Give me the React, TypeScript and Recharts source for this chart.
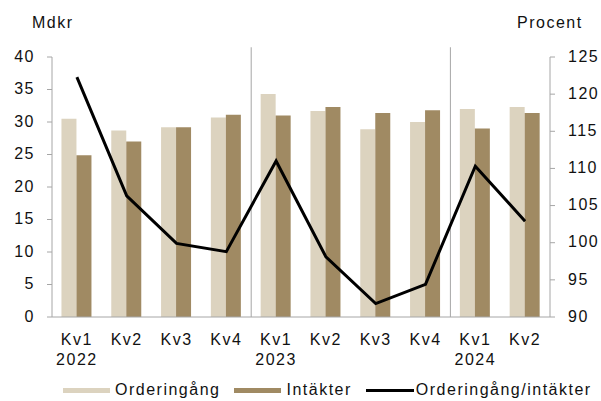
import React from 'react';
import {
  ComposedChart,
  Bar,
  Line,
  XAxis,
  YAxis,
  ReferenceLine,
  Legend,
} from 'recharts';

// Quarterly figures, Mdkr (bars) and ratio in percent (line)
const periods = [
  'Kv1 2022', 'Kv2 2022', 'Kv3 2022', 'Kv4 2022',
  'Kv1 2023', 'Kv2 2023', 'Kv3 2023', 'Kv4 2023',
  'Kv1 2024', 'Kv2 2024',
];
const orderIntake = [30.5, 28.7, 29.2, 30.7, 34.3, 31.7, 28.9, 30.0, 32.0, 32.3];
const revenue = [24.9, 27.0, 29.2, 31.1, 31.0, 32.3, 31.4, 31.8, 29.0, 31.4];
const ratio = [122.3, 106.3, 99.9, 98.8, 111.0, 98.1, 91.8, 94.4, 110.3, 102.9];

const leftTicks = [0, 5, 10, 15, 20, 25, 30, 35, 40];
const rightTicks = [90, 95, 100, 105, 110, 115, 120, 125];
const yearStarts = ['Kv1 2023', 'Kv1 2024'];
const seriesNames = ['Orderingång', 'Intäkter', 'Orderingång/intäkter'];

const LIGHT = '#dcd3bf';
const DARK = '#a08a63';
const GRID = '#a6a6a6';
const TEXT = '#111111';
const FONT_SIZE = 16;

const data = periods.map((period, i) => ({
  period,
  orderIntake: orderIntake[i],
  revenue: revenue[i],
  ratio: ratio[i],
}));

const QuarterTick = (props: any) => {
  const { x, y, payload } = props;
  const [quarter, year] = String(payload.value).split(' ');
  return (
    <g>
      <text x={x} y={y + 28} textAnchor="middle" fill={TEXT} fontSize={FONT_SIZE}>
        {quarter}
      </text>
      {quarter === 'Kv1' && (
        <text x={x} y={y + 48} textAnchor="middle" fill={TEXT} fontSize={FONT_SIZE}>
          {year}
        </text>
      )}
    </g>
  );
};

const LegendContent = (props: any) => {
  const items = [...(props.payload || [])].sort(
    (a: any, b: any) => seriesNames.indexOf(a.value) - seriesNames.indexOf(b.value)
  );
  return (
    <div
      style={{
        display: 'flex',
        alignItems: 'center',
        height: 22,
        paddingLeft: 63,
        fontSize: FONT_SIZE,
        color: TEXT,
        whiteSpace: 'nowrap',
      }}
    >
      {items.map((item: any) => (
        <div
          key={item.value}
          style={{ display: 'flex', alignItems: 'center', marginRight: 14 }}
        >
          {item.type === 'line' ? (
            <div style={{ width: 48, height: 3, background: item.color, marginRight: 2 }} />
          ) : (
            <div style={{ width: 47, height: 5, background: item.color, marginRight: 5 }} />
          )}
          <span>{item.value}</span>
        </div>
      ))}
    </div>
  );
};

export default function App() {
  return (
    <div
      style={{
        position: 'absolute',
        left: 0,
        top: 0,
        width: 601,
        height: 401,
        fontFamily: '"Liberation Sans", Arial, sans-serif',
        letterSpacing: '1.5px',
        background: '#ffffff',
      }}
    >
      <ComposedChart
        width={601}
        height={401}
        data={data}
        margin={{ top: 57, right: 0, bottom: 0, left: 0 }}
        barCategoryGap="19%"
        barGap={0}
      >
        <XAxis
          dataKey="period"
          xAxisId="x"
          height={62}
          interval={0}
          tickLine={false}
          tickSize={0}
          tickMargin={0}
          axisLine={{ stroke: GRID }}
          tick={<QuarterTick />}
        />
        <YAxis
          yAxisId="left"
          orientation="left"
          width={52}
          domain={[0, 40]}
          ticks={leftTicks}
          interval={0}
          tickSize={5}
          tickMargin={12}
          axisLine={{ stroke: GRID }}
          tickLine={{ stroke: GRID }}
          tick={{ fill: TEXT, fontSize: FONT_SIZE, dy: -1 }}
          label={{
            content: () => (
              <text x={32} y={28} fill={TEXT} fontSize={FONT_SIZE}>
                Mdkr
              </text>
            ),
          }}
        />
        <YAxis
          yAxisId="right"
          orientation="right"
          width={51}
          domain={[90, 125]}
          ticks={rightTicks}
          interval={0}
          tickSize={5}
          tickMargin={13}
          axisLine={{ stroke: GRID }}
          tickLine={{ stroke: GRID }}
          tick={{ fill: TEXT, fontSize: FONT_SIZE, dy: -1 }}
          label={{
            content: () => (
              <text x={517} y={28} fill={TEXT} fontSize={FONT_SIZE}>
                Procent
              </text>
            ),
          }}
        />
        {yearStarts.map((p) => (
          <ReferenceLine
            key={p}
            xAxisId="x"
            yAxisId="left"
            position="start"
            ifOverflow="visible"
            segment={[
              { x: p, y: 0 },
              { x: p, y: 41.5 },
            ]}
            stroke={GRID}
            strokeWidth={1}
          />
        ))}
        <Bar
          xAxisId="x"
          yAxisId="left"
          dataKey="orderIntake"
          name="Orderingång"
          fill={LIGHT}
          isAnimationActive={false}
        />
        <Bar
          xAxisId="x"
          yAxisId="left"
          dataKey="revenue"
          name="Intäkter"
          fill={DARK}
          isAnimationActive={false}
        />
        <Line
          xAxisId="x"
          yAxisId="right"
          dataKey="ratio"
          name="Orderingång/intäkter"
          type="linear"
          stroke="#000000"
          strokeWidth={3}
          dot={false}
          activeDot={false}
          legendType="line"
          isAnimationActive={false}
        />
        <Legend verticalAlign="bottom" height={22} content={<LegendContent />} />
      </ComposedChart>
    </div>
  );
}
